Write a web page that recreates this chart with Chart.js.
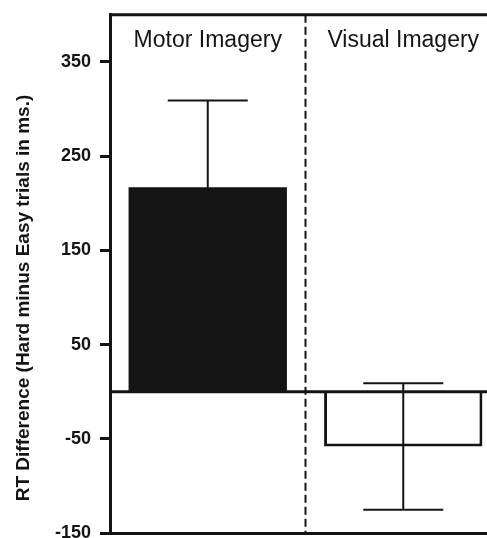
<!DOCTYPE html>
<html>
<head>
<meta charset="utf-8">
<script src="https://cdn.jsdelivr.net/npm/chart.js@4.4.0/dist/chart.umd.min.js"></script>
<style>
  html, body { margin: 0; padding: 0; overflow: hidden; background: #fff; }
  #wrap { width: 501px; height: 558px; margin-top: -5px; }
</style>
</head>
<body>
<div id="wrap"><canvas id="rtChart"></canvas></div>
<script>
    // data
    const conditions = ['Motor Imagery', 'Visual Imagery'];
    const rtDiff = [217, -58];
    const rtErr = [92, 67];
    const yTicks = [-150, -50, 50, 150, 250, 350];
    const yTitle = 'RT Difference (Hard minus Easy trials in ms.)';

    const ink = '#141414';

    // frame, zero line, divider, error bars and the labels inside the plot
    const extras = {
        id: 'extras',
        afterDatasetsDraw(chart) {
            const ctx = chart.ctx;
            const area = chart.chartArea;
            const x = chart.scales.x;
            const y = chart.scales.y;
            ctx.save();
            ctx.strokeStyle = ink;

            // error bars
            ctx.lineWidth = 2;
            rtDiff.forEach((v, i) => {
                const cx = x.getPixelForValue(i);
                const hi = y.getPixelForValue(v + rtErr[i]);
                const lo = y.getPixelForValue(v - rtErr[i]);
                ctx.beginPath();
                ctx.moveTo(cx, hi);
                ctx.lineTo(cx, lo);
                ctx.moveTo(cx - 40, hi);
                ctx.lineTo(cx + 40, hi);
                ctx.moveTo(cx - 40, lo);
                ctx.lineTo(cx + 40, lo);
                ctx.stroke();
            });

            // dashed divider between the two conditions
            const mid = (x.getPixelForValue(0) + x.getPixelForValue(1)) / 2;
            ctx.setLineDash([8, 4]);
            ctx.beginPath();
            ctx.moveTo(mid, area.top);
            ctx.lineTo(mid, area.bottom);
            ctx.stroke();
            ctx.setLineDash([]);

            // zero line and top frame
            ctx.lineWidth = 3;
            const y0 = y.getPixelForValue(0);
            ctx.beginPath();
            ctx.moveTo(area.left, y0);
            ctx.lineTo(area.right, y0);
            ctx.moveTo(area.left, area.top);
            ctx.lineTo(area.right, area.top);
            ctx.stroke();

            // condition names (page is shifted up 5px, so add it back)
            ctx.fillStyle = ink;
            ctx.font = '23px "Liberation Sans", Arial, sans-serif';
            ctx.textAlign = 'center';
            ctx.textBaseline = 'alphabetic';
            conditions.forEach((c, i) => {
                ctx.fillText(c, x.getPixelForValue(i), 52);
            });

            // axis title
            ctx.font = 'bold 19px "Liberation Sans", Arial, sans-serif';
            ctx.translate(29, 303);
            ctx.rotate(-Math.PI / 2);
            ctx.fillText(yTitle, 0, 0);
            ctx.restore();
        }
    };

    let ctxRT = document.getElementById('rtChart').getContext('2d');

    let chartRT = new Chart(ctxRT, {
        type: 'bar',
        data: {
            labels: conditions,
            datasets: [{
                data: rtDiff,
                backgroundColor: [ink, '#ffffff'],
                borderColor: ink,
                borderWidth: [0, 3],
                barPercentage: 0.81,
                categoryPercentage: 1
            }]
        },
        options: {
            responsive: true,
            maintainAspectRatio: false,
            animation: false,
            layout: {
                padding: { top: 8, bottom: 5, left: 0, right: 0 }
            },
            scales: {
                x: {
                    grid: { display: false },
                    ticks: { display: false },
                    border: { display: true, color: ink, width: 3 },
                    afterFit(scale) { scale.height = 0; }
                },
                y: {
                    min: -150,
                    max: 400,
                    afterBuildTicks(scale) {
                        scale.ticks = yTicks.map(v => ({ value: v }));
                    },
                    afterFit(scale) { scale.width = 110; },
                    grid: {
                        drawOnChartArea: false,
                        drawTicks: true,
                        tickLength: 10,
                        tickWidth: 3,
                        tickColor: ink,
                        lineWidth: 3,
                        color: ink
                    },
                    border: { display: true, color: ink, width: 3 },
                    ticks: {
                        color: ink,
                        padding: 9,
                        font: { family: '"Liberation Sans", Arial, sans-serif', size: 18, weight: 'bold' }
                    }
                }
            },
            plugins: {
                legend: { display: false },
                tooltip: { enabled: false }
            }
        },
        plugins: [extras]
    });
</script>
</body>
</html>
